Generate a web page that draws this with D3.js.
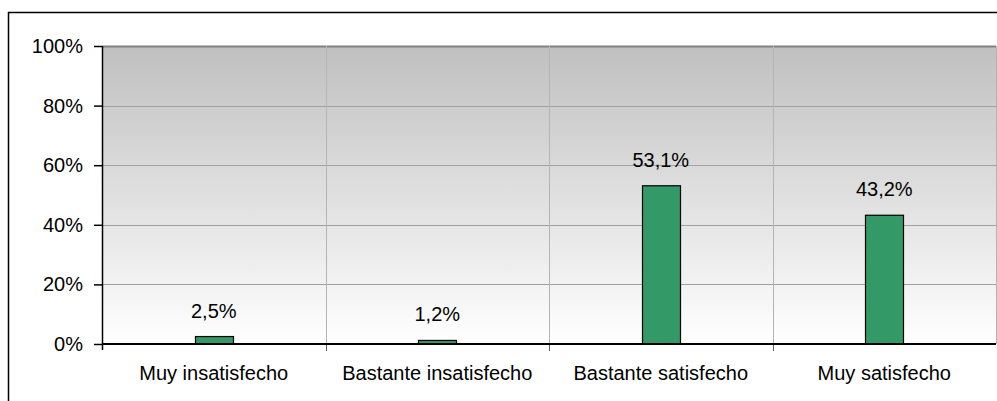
<!DOCTYPE html>
<html>
<head>
<meta charset="utf-8">
<script src="https://cdn.jsdelivr.net/npm/d3@7"></script>
<style>
  html, body { margin: 0; padding: 0; background: #fff; }
  svg { display: block; }
  text { font-family: "Liberation Sans", Arial, sans-serif; fill: #000; }
</style>
</head>
<body>
<svg id="chart" width="997" height="401"></svg>
<script>
// Grado de satisfacción (porcentaje de respuestas)
const categories = ["Muy insatisfecho", "Bastante insatisfecho", "Bastante satisfecho", "Muy satisfecho"];
const values = [2.5, 1.2, 53.1, 43.2];
const valueLabels = ["2,5%", "1,2%", "53,1%", "43,2%"];
const yTicks = [0, 20, 40, 60, 80, 100];

const svg = d3.select("#chart");
const W = 997, H = 401;
const plot = { left: 102, right: 996, top: 46, bottom: 344 };
const fontSize = 20;

// outer frame
svg.append("rect")
  .attr("x", 8.5).attr("y", 12.5)
  .attr("width", W + 20).attr("height", H + 20)
  .attr("fill", "none").attr("stroke", "#000").attr("stroke-width", 1.5);

const x = d3.scaleBand().domain(categories).range([plot.left, plot.right]).paddingInner(0).paddingOuter(0);
const y = d3.scaleLinear().domain([0, 100]).range([plot.bottom, plot.top]);

// background gradient of the plot area
const defs = svg.append("defs");
const grad = defs.append("linearGradient").attr("id", "bg").attr("x1", 0).attr("y1", 0).attr("x2", 0).attr("y2", 1);
grad.append("stop").attr("offset", "0%").attr("stop-color", "#c0c0c0");
grad.append("stop").attr("offset", "100%").attr("stop-color", "#ffffff");

svg.append("rect")
  .attr("x", plot.left).attr("y", plot.top)
  .attr("width", plot.right - plot.left).attr("height", plot.bottom - plot.top)
  .attr("fill", "url(#bg)");

// horizontal gridlines
svg.append("g").selectAll("line").data(yTicks.filter(t => t > 0)).join("line")
  .attr("x1", plot.left).attr("x2", plot.right)
  .attr("y1", d => Math.round(y(d)) + 0.5).attr("y2", d => Math.round(y(d)) + 0.5)
  .attr("stroke", d => d === 100 ? "#808080" : "#a0a0a0").attr("stroke-width", d => d === 100 ? 2 : 1);

// vertical category separators (continue below the axis as ticks)
const seps = categories.slice(1).map(c => x(c)).concat([plot.right]);
svg.append("g").selectAll("line").data(seps).join("line")
  .attr("x1", d => Math.round(d) + 0.5).attr("x2", d => Math.round(d) + 0.5)
  .attr("y1", plot.top).attr("y2", plot.bottom)
  .attr("stroke", "#b4b4b4").attr("stroke-width", 1);
svg.append("g").selectAll("line").data(categories.slice(1).map(c => x(c))).join("line")
  .attr("x1", d => Math.round(d) + 0.5).attr("x2", d => Math.round(d) + 0.5)
  .attr("y1", plot.bottom).attr("y2", plot.bottom + 7)
  .attr("stroke", "#606060").attr("stroke-width", 1);

// bars
const barW = 38;
svg.append("g").selectAll("rect").data(values).join("rect")
  .attr("x", (d, i) => Math.round(x(categories[i]) + x.bandwidth() / 2 - barW / 2) + 0.5)
  .attr("y", d => y(d))
  .attr("width", barW)
  .attr("height", d => plot.bottom - y(d))
  .attr("fill", "#339966").attr("stroke", "#000").attr("stroke-width", 1.2);

// value labels
svg.append("g").selectAll("text").data(values).join("text")
  .attr("x", (d, i) => x(categories[i]) + x.bandwidth() / 2)
  .attr("y", d => y(d) - 19)
  .attr("text-anchor", "middle")
  .attr("font-size", fontSize)
  .text((d, i) => valueLabels[i]);

// y axis
const yAxis = d3.axisLeft(y).tickValues(yTicks).tickFormat(d => d + "%").tickSize(8).tickPadding(11);
const gy = svg.append("g").attr("transform", `translate(${plot.left},0)`).call(yAxis);
gy.select(".domain").attr("stroke", "#000").attr("stroke-width", 1.5).attr("d", `M0.5,${plot.top}V${plot.bottom + 6}`);
gy.selectAll(".tick line").attr("stroke", "#000").attr("stroke-width", 1.5);
gy.selectAll(".tick text").attr("font-size", fontSize).attr("font-family", "Liberation Sans, Arial, sans-serif").attr("fill", "#000");

// x axis baseline
svg.append("line")
  .attr("x1", plot.left).attr("x2", plot.right)
  .attr("y1", plot.bottom).attr("y2", plot.bottom)
  .attr("stroke", "#000").attr("stroke-width", 2);

// category labels
svg.append("g").selectAll("text").data(categories).join("text")
  .attr("x", d => x(d) + x.bandwidth() / 2)
  .attr("y", 380)
  .attr("text-anchor", "middle")
  .attr("font-size", fontSize)
  .text(d => d);
</script>
</body>
</html>
